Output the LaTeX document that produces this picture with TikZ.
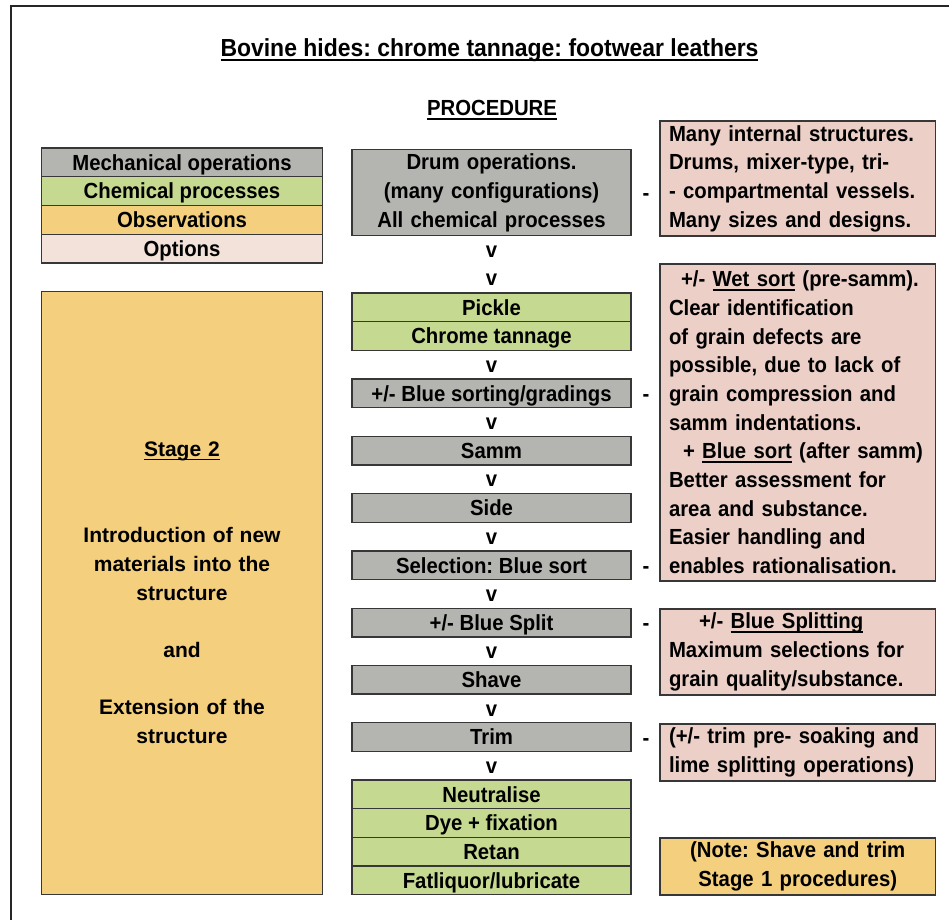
\documentclass[tikz,border=0pt]{standalone}
\usepackage{fontspec}
\setmainfont{Liberation Sans}[FakeStretch=0.93]
\newfontfamily\stagefamily{Liberation Sans}
\frenchspacing

\definecolor{mechgray}{RGB}{180,180,177}
\definecolor{chemgreen}{RGB}{198,217,144}
\definecolor{obsyellow}{RGB}{243,207,126}
\definecolor{optpale}{RGB}{242,226,217}
\definecolor{optpink}{RGB}{236,208,199}
\definecolor{edgegray}{RGB}{55,55,55}

\newcommand\bodyfont{\bfseries\fontsize{16.4}{21.5}\selectfont}
\newcommand\titlefont{\bfseries\fontsize{18.5}{22}\selectfont}
\newcommand\stagefont{\stagefamily\bfseries\fontsize{15.75}{21.5}\selectfont}
\newcommand\ulbar[1]{\setbox0\hbox{#1}\rlap{\rule[-0.17em]{\wd0}{0.075em}}\box0\relax}

\tikzset{
  cell/.style={draw=edgegray, line width=1pt, inner sep=0pt, outer sep=0pt,
    minimum width=209.25pt, minimum height=21.5pt, font=\bodyfont},
  oneline/.style={text height=11.75pt, text depth=0pt},
  mech/.style={cell, oneline, fill=mechgray},
  chem/.style={cell, oneline, fill=chemgreen},
  key/.style={cell, oneline, minimum width=210.75pt, minimum height=21.56pt},
  remark/.style={cell, fill=optpink, minimum width=206.6pt, inner xsep=6.75pt,
    text width=193.1pt, align=left},
  downmark/.style={inner sep=0pt, font=\bodyfont},
  hyph/.style={inner sep=0pt, font=\bodyfont}
}

\begin{document}
\begin{tikzpicture}[x=0.75pt,y=-0.75pt]
  \useasboundingbox (0,0) rectangle (949,920);
  \fill[white] (0,0) rectangle (949,920);
  \draw[line width=1.1pt, black!85] (11,920) -- (11,6) -- (949,6);

  % headings
  \node[anchor=base, font=\titlefont] (title) at (489.5,57) {\ulbar{Bovine hides: chrome tannage: footwear leathers}};
  \node[anchor=base, font=\bodyfont] (proc) at (492,116) {\ulbar{PROCEDURE}};

  % legend
  \node[key, fill=mechgray ] (kmech) at (182,162.4) {Mechanical operations};
  \node[key, fill=chemgreen] (kchem) at (182,191.1) {Chemical processes};
  \node[key, fill=obsyellow] (kobs ) at (182,219.9) {Observations};
  \node[key, fill=optpale  ] (kopt ) at (182,248.6) {Options};

  \node[cell, fill=obsyellow, minimum width=210.75pt, minimum height=452.25pt,
        text width=210.75pt, align=center, font=\stagefont] (stage) at (182,593)
        {\ulbar{Stage 2}\\[43pt]
         Introduction of new\\ materials into the\\ structure\\[21.5pt]
         and\\[21.5pt]
         Extension of the\\ structure};

  % procedure column
  \node[cell, fill=mechgray, minimum height=64.5pt, text width=209.25pt, align=center] (drum) at (491.5,192.7)
        {Drum operations.\\ (many configurations)\\ All chemical processes};
  \node[downmark] (v1) at (491.5,251.4) {v};
  \node[downmark] (v2) at (491.5,280.0) {v};
  \node[chem] (pickle ) at (491.5,307.3) {Pickle};
  \node[chem] (chrome ) at (491.5,336.0) {Chrome tannage};
  \node[downmark] (v3) at (491.5,366.6) {v};
  \node[mech] (bsort  ) at (491.5,393.3) {+/- Blue sorting/gradings};
  \node[downmark] (v4) at (491.5,423.9) {v};
  \node[mech] (samm   ) at (491.5,450.6) {Samm};
  \node[downmark] (v5) at (491.5,481.2) {v};
  \node[mech] (side   ) at (491.5,507.9) {Side};
  \node[downmark] (v6) at (491.5,538.5) {v};
  \node[mech] (select ) at (491.5,565.2) {Selection: Blue sort};
  \node[downmark] (v7) at (491.5,595.8) {v};
  \node[mech] (bsplit ) at (491.5,622.5) {+/- Blue Split};
  \node[downmark] (v8) at (491.5,653.1) {v};
  \node[mech] (shave  ) at (491.5,679.8) {Shave};
  \node[downmark] (v9) at (491.5,710.4) {v};
  \node[mech] (trim   ) at (491.5,737.1) {Trim};
  \node[downmark] (v10) at (491.5,767.7) {v};
  \node[chem] (neutral) at (491.5,794.4) {Neutralise};
  \node[chem] (dye    ) at (491.5,823.0) {Dye + fixation};
  \node[chem] (retan  ) at (491.5,851.7) {Retan};
  \node[chem] (fatliq ) at (491.5,880.3) {Fatliquor/lubricate};

  % dashes
  \node[hyph] (h1) at (646,197.2) {-};
  \node[hyph] (h2) at (646,397.8) {-};
  \node[hyph] (h3) at (646,569.7) {-};
  \node[hyph] (h4) at (646,627.0) {-};
  \node[hyph] (h5) at (646,741.6) {-};

  % remarks
  \node[remark, minimum height=86.25pt] (rdrum) at (797.75,178.5)
        {Many internal structures.\\ Drums, mixer-type, tri-\\ - compartmental vessels.\\ Many sizes and designs.};
  \node[remark, minimum height=237.75pt] (rsort) at (797.75,422.5)
        {\hspace*{9pt}+/- \ulbar{Wet sort} (pre-samm).\\ Clear identification\\ of grain defects are\\
         possible, due to lack of\\ grain compression and\\ samm indentations.\\
         \hspace*{10.5pt}+ \ulbar{Blue sort} (after samm)\\ Better assessment for\\ area and substance.\\
         Easier handling and\\ enables rationalisation.};
  \node[remark, minimum height=64.5pt] (rsplit) at (797.75,652)
        {\hspace*{22.5pt}+/- \ulbar{Blue Splitting}\\ Maximum selections for\\ grain quality/substance.};
  \node[remark, minimum height=42.75pt] (rtrim) at (797.75,752.5)
        {(+/- trim pre- soaking and\\ lime splitting operations)};
  \node[remark, fill=obsyellow, minimum height=42.75pt, align=center] (rnote) at (797.75,866.5)
        {(Note: Shave and trim\\ Stage 1 procedures)};
\end{tikzpicture}
\end{document}
